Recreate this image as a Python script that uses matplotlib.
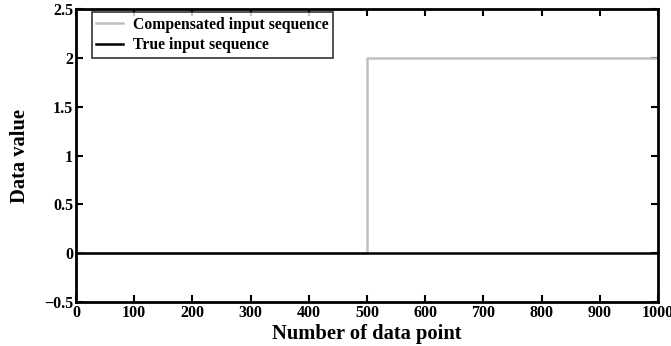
import matplotlib
matplotlib.use("Agg")
import matplotlib.pyplot as plt

# step data (noise is only ~0.01, drawn as flat levels)
x_points = [0, 500, 500, 1000]
compensated = [0, 0, 2, 2]
true_input = [0, 0, 0, 0]

x_ticks = [0, 100, 200, 300, 400, 500, 600, 700, 800, 900, 1000]
y_ticks = [-0.5, 0, 0.5, 1, 1.5, 2, 2.5]
y_labels = ["\u22120.5", "0", "0.5", "1", "1.5", "2", "2.5"]

plt.rcParams['font.family'] = ['Liberation Serif', 'DejaVu Serif']
plt.rcParams['font.weight'] = 'bold'

fig = plt.figure(figsize=(6.71, 3.46), dpi=100)
ax = fig.add_axes([0.1133, 0.127, 0.8673, 0.847])

ax.plot(x_points, compensated, color='#c0c0c0', lw=1.8, label='Compensated input sequence')
ax.plot(x_points, true_input, color='black', lw=1.8, label='True input sequence')

ax.set_xlim(0, 1000)
ax.set_ylim(-0.5, 2.5)
ax.set_xticks(x_ticks)
ax.set_yticks(y_ticks)
ax.set_yticklabels(y_labels)
ax.tick_params(direction='in', length=5, width=1.5, labelsize=11.5, pad=2,
               top=True, right=True)
for lab in ax.get_xticklabels() + ax.get_yticklabels():
    lab.set_fontweight('bold')
for s in ax.spines.values():
    s.set_linewidth(2)

ax.set_xlabel('Number of data point', fontsize=14.8, fontweight='bold', labelpad=2)
ax.set_ylabel('Data value', fontsize=14.8, fontweight='bold', labelpad=10)

leg = ax.legend(loc='upper left', bbox_to_anchor=(0.027, 0.99), fontsize=11.3,
                frameon=True, fancybox=False, edgecolor='black', borderpad=0.3,
                handlelength=1.7, handletextpad=0.6, labelspacing=0.3, borderaxespad=0)
leg.get_frame().set_linewidth(1.2)
for t in leg.get_texts():
    t.set_fontweight('bold')

fig.savefig('out.png', dpi=100)
